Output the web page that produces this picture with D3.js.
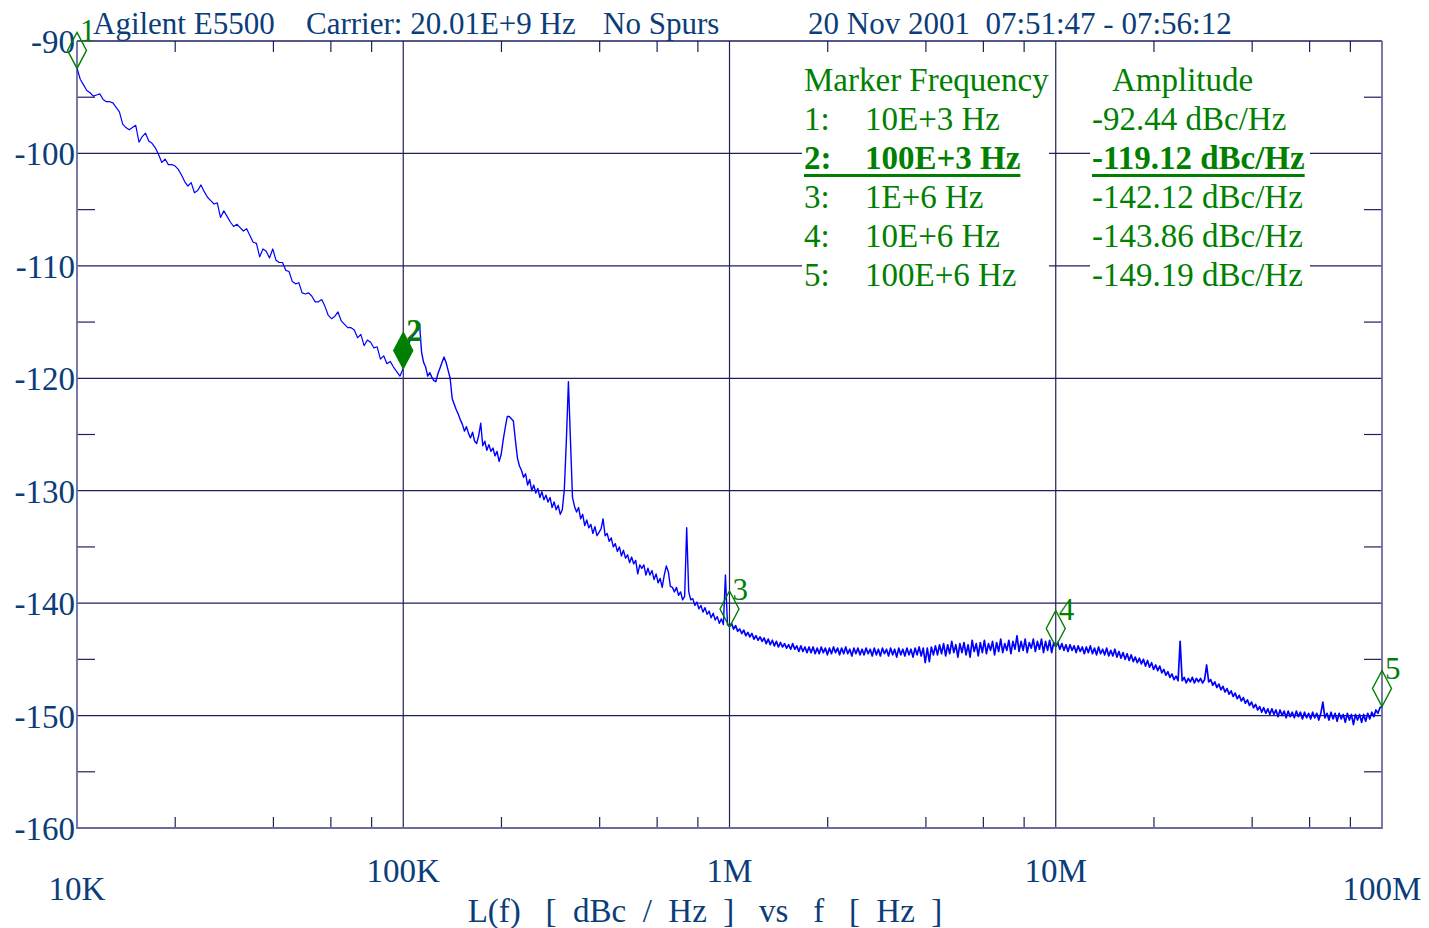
<!DOCTYPE html>
<html>
<head>
<meta charset="utf-8">
<script src="https://cdn.jsdelivr.net/npm/d3@7"></script>
<style>
  html, body { margin: 0; padding: 0; background: #fff; }
  svg { display: block; font-family: "Liberation Serif", "Times New Roman", serif; }
  text { white-space: pre; }
</style>
</head>
<body>
<svg id="chart" width="1429" height="928"></svg>
<script>
// ---- data ----
const titleParts = ["Agilent E5500", "Carrier: 20.01E+9 Hz", "No Spurs", "20 Nov 2001  07:51:47 - 07:56:12"];
const yTicks = [-90, -100, -110, -120, -130, -140, -150, -160];
const yMinorTicks = [-95, -105, -115, -125, -135, -145, -155];
const xDecades = [1e4, 1e5, 1e6, 1e7, 1e8];
const xTickLabels = ["10K", "100K", "1M", "10M", "100M"];
const xMinorMultipliers = [2, 4, 6, 8];
const axisTitle = "L(f)   [  dBc  /  Hz  ]   vs   f   [  Hz  ]";

const markerIds = ["1", "2", "3", "4", "5"];
const markerFreqs = [1e4, 1e5, 1e6, 1e7, 1e8];
const markerFreqLabels = ["10E+3 Hz", "100E+3 Hz", "1E+6 Hz", "10E+6 Hz", "100E+6 Hz"];
const markerAmps = [-92.44, -119.12, -142.12, -143.86, -149.19];
const activeMarker = 1;

// trace levels (dBc/Hz), log-spaced sweep points per decade, ends included
const level10k = [
  -92.4, -93.4, -93.9, -94.4, -94.6, -94.9, -94.8, -94.7, -95.2, -95.4,
  -95.4, -95.5, -95.9, -96.3, -97.4, -97.7, -97.9, -97.7, -97.5, -99.0,
  -98.5, -98.2, -98.9, -99.1, -99.5, -100.1, -100.8, -100.5, -101.0, -101.0,
  -101.1, -101.4, -101.9, -102.5, -102.9, -102.6, -103.5, -103.3, -102.8, -103.4,
  -103.9, -104.2, -104.5, -104.4, -105.7, -105.1, -105.6, -106.1, -106.5, -106.3,
  -106.6, -106.9, -106.7, -107.3, -107.9, -108.0, -109.2, -108.5, -108.7, -109.3,
  -108.5, -109.5, -109.7, -109.7, -110.4, -110.5, -111.4, -111.6, -111.5, -112.4,
  -112.5, -112.4, -112.7, -113.2, -113.2, -113.0, -113.6, -114.4, -114.7, -114.5,
  -114.1, -114.9, -115.2, -115.5, -115.5, -115.7, -116.4, -116.1, -117.1, -116.6,
  -116.8, -117.3, -117.2, -118.3, -118.0, -118.7, -118.5, -119.0, -119.4, -119.8,
  -119.1
];
const level100k = [
  -119.1, -118.4, -117.7, -116.8, -116.4, -116.2, -116.0, -115.6, -115.2, -117.7,
  -118.6, -119.0, -119.8, -119.5, -119.9, -120.2, -120.3, -119.6, -119.1, -118.6,
  -118.1, -118.6, -119.3, -120.0, -121.8, -122.3, -122.8, -123.2, -123.7, -124.1,
  -124.7, -124.3, -124.9, -125.3, -124.8, -125.6, -125.8, -125.1, -124.0, -126.0,
  -125.6, -126.4, -125.9, -126.5, -126.2, -126.9, -126.5, -127.4, -126.8, -125.5,
  -124.4, -123.4, -123.4, -123.6, -123.8, -125.5, -127.1, -127.8, -128.2, -128.8,
  -128.5, -129.5, -129.0, -130.0, -129.5, -130.2, -129.8, -130.6, -130.1, -130.8,
  -130.4, -131.0, -130.6, -131.5, -131.0, -131.7, -131.3, -132.1, -131.7, -129.9,
  -125.5, -120.3, -125.5, -130.6, -131.4, -131.9, -131.5, -132.5, -132.1, -133.1,
  -132.6, -133.3, -133.0, -133.8, -133.2, -134.0, -133.7, -133.4, -132.5, -134.0,
  -133.8, -134.5, -134.2, -135.0, -134.7, -135.4, -135.0, -135.8, -135.3, -136.0,
  -135.7, -136.4, -135.9, -136.5, -136.2, -137.4, -136.6, -136.9, -136.6, -137.5,
  -136.9, -137.5, -137.1, -137.9, -137.4, -138.2, -137.8, -138.6, -137.5, -136.7,
  -137.2, -138.5, -138.6, -139.0, -138.6, -139.3, -139.0, -139.7, -139.4, -133.3,
  -139.0, -139.7, -139.6, -140.2, -139.9, -140.5, -140.2, -140.8, -140.4, -141.0,
  -140.7, -141.3, -140.9, -141.5, -141.2, -141.8, -141.4, -141.9, -137.5, -141.9,
  -142.1
];
const level1M = [
  -142.1, -141.8, -142.3, -142.0, -142.5, -142.3, -142.7, -142.4, -142.9, -142.6,
  -143.0, -142.7, -143.2, -142.9, -143.3, -143.0, -143.4, -143.1, -143.6, -143.2,
  -143.7, -143.3, -143.8, -143.4, -143.9, -143.5, -143.9, -143.6, -144.0, -143.7,
  -144.1, -143.6, -144.1, -143.8, -144.3, -143.8, -144.3, -143.9, -144.4, -143.9,
  -144.4, -143.9, -144.5, -144.0, -144.5, -143.9, -144.4, -144.0, -144.6, -144.0,
  -144.5, -143.9, -144.4, -144.0, -144.6, -144.0, -144.5, -143.9, -144.5, -144.1,
  -144.7, -144.0, -144.5, -144.0, -144.6, -144.1, -144.6, -144.0, -144.5, -144.1,
  -144.7, -144.0, -144.6, -144.1, -144.7, -144.0, -144.5, -144.1, -144.7, -144.0,
  -144.6, -144.1, -144.8, -144.0, -144.6, -144.1, -144.7, -144.0, -144.6, -144.1,
  -144.8, -144.0, -144.6, -143.9, -144.7, -144.0, -145.3, -144.0, -145.2, -143.9,
  -144.6, -143.8, -144.6, -143.7, -144.5, -143.6, -144.7, -143.7, -144.5, -143.4,
  -144.4, -143.7, -144.8, -143.6, -144.4, -143.5, -144.6, -143.7, -144.8, -143.3,
  -144.3, -143.6, -144.7, -143.5, -144.4, -143.3, -144.5, -143.6, -144.2, -143.4,
  -144.6, -143.5, -144.3, -143.2, -144.4, -143.6, -144.2, -143.3, -144.5, -143.4,
  -144.1, -142.9, -144.3, -143.4, -144.2, -143.2, -144.4, -143.5, -144.0, -143.2,
  -144.3, -143.4, -144.1, -143.2, -144.4, -143.4, -144.2, -143.3, -144.4, -143.5,
  -143.9
];
const level10M = [
  -143.9, -143.5, -144.1, -143.6, -144.2, -143.7, -144.3, -143.7, -144.2, -143.8,
  -144.4, -143.8, -144.3, -143.9, -144.5, -143.9, -144.4, -143.8, -144.5, -144.0,
  -144.6, -143.9, -144.5, -144.1, -144.6, -144.0, -144.7, -144.2, -144.7, -144.1,
  -144.8, -144.3, -144.9, -144.4, -145.0, -144.5, -145.1, -144.6, -145.2, -144.8,
  -145.3, -144.9, -145.4, -145.0, -145.6, -145.1, -145.7, -145.3, -145.9, -145.5,
  -146.0, -145.6, -146.2, -145.9, -146.4, -146.1, -146.6, -146.3, -146.8, -146.5,
  -146.9, -143.4, -146.9, -146.6, -147.1, -146.7, -147.0, -146.6, -147.1, -146.7,
  -147.0, -146.7, -147.1, -146.8, -145.5, -147.0, -146.8, -147.3, -147.0, -147.5,
  -147.2, -147.7, -147.4, -147.9, -147.6, -148.1, -147.8, -148.3, -148.0, -148.5,
  -148.2, -148.7, -148.4, -148.9, -148.6, -149.1, -148.8, -149.3, -149.0, -149.5,
  -149.2, -149.7, -149.3, -149.8, -149.4, -149.9, -149.4, -149.9, -149.5, -150.1,
  -149.5, -150.0, -149.6, -150.2, -149.6, -150.1, -149.7, -150.2, -149.6, -150.1,
  -149.7, -150.3, -149.7, -150.2, -149.8, -150.3, -149.7, -150.2, -149.8, -150.4,
  -149.8, -148.8, -150.2, -149.8, -150.4, -149.7, -150.3, -149.8, -150.5, -149.8,
  -150.3, -149.9, -150.6, -149.8, -150.4, -149.9, -150.8, -149.9, -150.4, -149.9,
  -150.6, -149.9, -150.5, -149.8, -150.3, -149.7, -150.1, -149.5, -149.8, -149.3,
  -149.2
];
const traceLevels = [level10k, level100k, level1M, level10M];

// ---- layout ----
const plotLeft = 77, plotRight = 1382, plotTop = 41, plotBottom = 828;
const textBlue = "#0b3d78";
const gridColor = "#1f1f5c";
const frameColor = "#6c6c9c";
const green = "#008000";
// the dense noisy decades look heavier on the analyzer plot
const traceWidths = [1.2, 1.4, 1.7, 1.7];

const svg = d3.select("#chart");

const x = d3.scaleLog().domain([xDecades[0], xDecades[xDecades.length - 1]]).range([plotLeft, plotRight]);
const y = d3.scaleLinear().domain([-90, -160]).range([plotTop, plotBottom]);

// sweep points: each decade's levels sit on a log-spaced frequency sweep
const segments = traceLevels.map((levels, d) => {
  const f0 = xDecades[d], f1 = xDecades[d + 1];
  return levels.map((v, i) => [f0 * Math.pow(f1 / f0, i / (levels.length - 1)), v]);
});

// grid
const grid = svg.append("g");
grid.selectAll(".hgrid").data(yTicks.slice(1, -1)).join("line")
  .attr("x1", plotLeft).attr("x2", plotRight)
  .attr("y1", d => y(d)).attr("y2", d => y(d))
  .attr("stroke", gridColor).attr("stroke-width", 1.2);
grid.selectAll(".vgrid").data(xDecades.slice(1, -1)).join("line")
  .attr("x1", d => x(d)).attr("x2", d => x(d))
  .attr("y1", plotTop).attr("y2", plotBottom)
  .attr("stroke", gridColor).attr("stroke-width", 1.2);

// minor ticks on all four sides
const minorX = [];
xDecades.slice(0, -1).forEach(d => xMinorMultipliers.forEach(m => minorX.push(d * m)));
grid.selectAll(".mxt").data(minorX).join("line")
  .attr("x1", d => x(d)).attr("x2", d => x(d)).attr("y1", plotTop).attr("y2", plotTop + 11)
  .attr("stroke", gridColor).attr("stroke-width", 1.2);
grid.selectAll(".mxb").data(minorX).join("line")
  .attr("x1", d => x(d)).attr("x2", d => x(d)).attr("y1", plotBottom - 11).attr("y2", plotBottom)
  .attr("stroke", gridColor).attr("stroke-width", 1.2);
grid.selectAll(".myl").data(yMinorTicks).join("line")
  .attr("x1", plotLeft).attr("x2", plotLeft + 18).attr("y1", d => y(d)).attr("y2", d => y(d))
  .attr("stroke", gridColor).attr("stroke-width", 1.2);
grid.selectAll(".myr").data(yMinorTicks).join("line")
  .attr("x1", plotRight - 18).attr("x2", plotRight).attr("y1", d => y(d)).attr("y2", d => y(d))
  .attr("stroke", gridColor).attr("stroke-width", 1.2);

// frame
grid.append("line").attr("x1", plotLeft).attr("x2", plotRight).attr("y1", plotTop).attr("y2", plotTop)
  .attr("stroke", gridColor).attr("stroke-width", 1.3);
grid.append("path")
  .attr("d", `M${plotLeft},${plotTop}V${plotBottom}H${plotRight}V${plotTop}`)
  .attr("fill", "none").attr("stroke", frameColor).attr("stroke-width", 1.8);

// trace
svg.append("defs").append("clipPath").attr("id", "plotClip")
  .append("rect").attr("x", plotLeft).attr("y", plotTop)
  .attr("width", plotRight - plotLeft).attr("height", plotBottom - plotTop);
const line = d3.line().x(d => x(d[0])).y(d => y(d[1]));
svg.append("g").attr("clip-path", "url(#plotClip)")
  .selectAll("path").data(segments).join("path")
  .attr("fill", "none")
  .attr("stroke", "#0000ff")
  .attr("stroke-width", (d, i) => traceWidths[i])
  .attr("stroke-linejoin", "round")
  .attr("d", line);

// y labels
svg.selectAll(".ylab").data(yTicks).join("text")
  .attr("x", plotLeft - 2).attr("y", d => y(d) + 12)
  .attr("text-anchor", "end")
  .attr("font-size", 33).attr("fill", textBlue)
  .text(d => d);

// x labels (ends staggered lower)
svg.selectAll(".xlab").data(xDecades).join("text")
  .attr("x", d => x(d))
  .attr("y", (d, i) => (i === 0 || i === xDecades.length - 1) ? 900 : 882)
  .attr("text-anchor", "middle")
  .attr("font-size", 33).attr("fill", textBlue)
  .text((d, i) => xTickLabels[i]);

svg.append("text")
  .attr("x", 705).attr("y", 922)
  .attr("text-anchor", "middle")
  .attr("font-size", 33).attr("fill", textBlue)
  .text(axisTitle);

// title line
const titleX = [93, 306, 603, 808];
svg.selectAll(".title").data(titleParts).join("text")
  .attr("x", (d, i) => titleX[i]).attr("y", 34)
  .attr("font-size", 31).attr("fill", textBlue)
  .text(d => d);

// marker table (white boxes hide the grid behind each column)
const legend = svg.append("g");
legend.append("rect").attr("x", 802).attr("y", 60).attr("width", 247).attr("height", 233).attr("fill", "#fff");
legend.append("rect").attr("x", 1090).attr("y", 60).attr("width", 220).attr("height", 233).attr("fill", "#fff");
legend.append("text").attr("x", 804).attr("y", 91).attr("font-size", 33).attr("fill", green).text("Marker Frequency");
legend.append("text").attr("x", 1112).attr("y", 91).attr("font-size", 33).attr("fill", green).text("Amplitude");

markerIds.forEach((id, i) => {
  const by = 130 + 39 * i;
  const bold = i === activeMarker ? "bold" : "normal";
  legend.append("text").attr("x", 804).attr("y", by).attr("font-size", 33)
    .attr("font-weight", bold).attr("fill", green).text(id + ":");
  const ft = legend.append("text").attr("x", 865).attr("y", by).attr("font-size", 33)
    .attr("font-weight", bold).attr("fill", green).text(markerFreqLabels[i]);
  const at = legend.append("text").attr("x", 1092).attr("y", by).attr("font-size", 33)
    .attr("font-weight", bold).attr("fill", green).text(markerAmps[i].toFixed(2) + " dBc/Hz");
  if (i === activeMarker) {
    const fEnd = 865 + ft.node().getComputedTextLength();
    const aEnd = 1092 + at.node().getComputedTextLength();
    legend.append("rect").attr("x", 804).attr("y", by + 5).attr("width", fEnd - 804).attr("height", 3).attr("fill", green);
    legend.append("rect").attr("x", 1092).attr("y", by + 5).attr("width", aEnd - 1092).attr("height", 3).attr("fill", green);
  }
});

// markers: diamond whose bottom vertex sits on the trace
const markers = svg.append("g");
markerIds.forEach((id, i) => {
  const cx = x(markerFreqs[i]);
  const cy = y(markerAmps[i]);
  const active = i === activeMarker;
  markers.append("path")
    .attr("d", `M${cx},${cy - 36}L${cx + 9.5},${cy - 18}L${cx},${cy}L${cx - 9.5},${cy - 18}Z`)
    .attr("fill", active ? green : "none")
    .attr("stroke", green).attr("stroke-width", 1.4);
  markers.append("text")
    .attr("x", cx + 3).attr("y", cy - 27)
    .attr("font-size", active ? 32 : 31).attr("font-weight", active ? "bold" : "normal")
    .attr("fill", green).text(id);
});
</script>
</body>
</html>
